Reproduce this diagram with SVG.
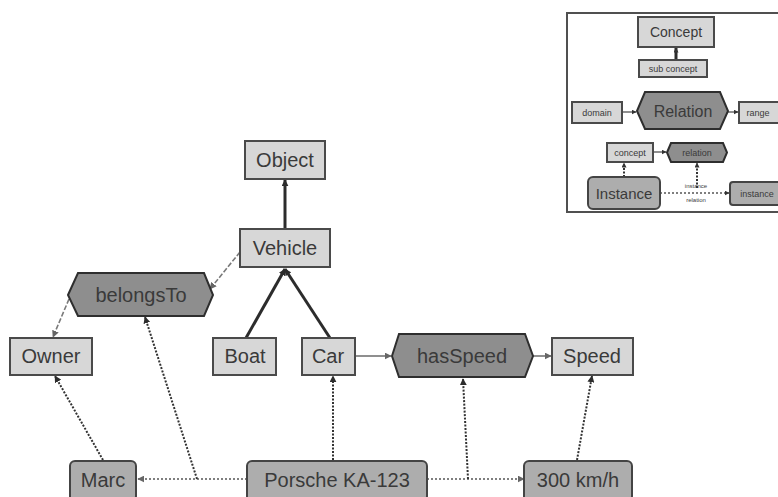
<svg xmlns="http://www.w3.org/2000/svg" width="778" height="497" viewBox="0 0 778 497">
  <style>
    text { font-family: "Liberation Sans", Arial, sans-serif; fill: #3a3a3a; text-anchor: middle; dominant-baseline: central; }
    .lbl { font-size: 20px; }
    .concept { fill: #d7d7d7; stroke: #4a4a4a; stroke-width: 2; }
    .relation { fill: #8e8e8e; stroke: #2e2e2e; stroke-width: 2; }
    .instance { fill: #adadad; stroke: #444; stroke-width: 2; }
    .isa { fill: none; stroke: #2c2c2c; stroke-width: 3; }
    .rel { fill: none; stroke: #6a6a6a; stroke-width: 1.5; }
    .reld { fill: none; stroke: #7a7a7a; stroke-width: 1.6; stroke-dasharray: 5 2; }
    .inst { fill: none; stroke: #333; stroke-width: 2; stroke-dasharray: 2 1.5; }
    .irel { fill: none; stroke: #555; stroke-width: 1.5; stroke-dasharray: 2 2; }
    .frame { fill: #fff; stroke: #505050; stroke-width: 2; }
  </style>
  <defs>
    <marker id="ah" viewBox="0 0 10 10" refX="9" refY="5" markerWidth="7" markerHeight="7" markerUnits="userSpaceOnUse" orient="auto">
      <path d="M0,0 L10,5 L0,10 z" fill="#2c2c2c"/>
    </marker>
    <marker id="ahg" viewBox="0 0 10 10" refX="9" refY="5" markerWidth="7" markerHeight="7" markerUnits="userSpaceOnUse" orient="auto">
      <path d="M0,0 L10,5 L0,10 z" fill="#666"/>
    </marker>
    <marker id="ahs" viewBox="0 0 10 10" refX="9" refY="5" markerWidth="5" markerHeight="5" markerUnits="userSpaceOnUse" orient="auto">
      <path d="M0,0 L10,5 L0,10 z" fill="#333"/>
    </marker>
  </defs>
  <rect width="778" height="497" fill="#fff"/>

  <!-- connectors -->
  <g id="connectors">
    <!-- subclass links -->
    <line class="isa" x1="285" y1="229" x2="285" y2="180" marker-end="url(#ah)"/>
    <line class="isa" x1="246" y1="338" x2="285" y2="269" marker-end="url(#ah)"/>
    <line class="isa" x1="330" y1="338" x2="285" y2="269" marker-end="url(#ah)"/>
    <!-- relation domain / range -->
    <line class="reld" x1="240" y1="252" x2="210" y2="289" marker-end="url(#ahg)"/>
    <line class="reld" x1="69" y1="299" x2="53" y2="337" marker-end="url(#ahg)"/>
    <line class="rel" x1="355" y1="356" x2="391" y2="356" marker-end="url(#ahg)"/>
    <line class="rel" x1="533" y1="356" x2="551" y2="356" marker-end="url(#ahg)"/>
    <!-- instance-of links -->
    <line class="inst" x1="103" y1="460" x2="55" y2="376" marker-end="url(#ah)"/>
    <line class="inst" x1="333" y1="460" x2="333" y2="376" marker-end="url(#ah)"/>
    <line class="inst" x1="577" y1="460" x2="592" y2="376" marker-end="url(#ah)"/>
    <!-- instance relations -->
    <line class="irel" x1="247" y1="479" x2="138" y2="479" marker-end="url(#ahg)"/>
    <line class="inst" x1="197" y1="479" x2="145" y2="317" marker-end="url(#ah)"/>
    <line class="irel" x1="427" y1="479" x2="524" y2="479" marker-end="url(#ahg)"/>
    <line class="inst" x1="468" y1="479" x2="463" y2="379" marker-end="url(#ah)"/>
  </g>

  <!-- concepts -->
  <g id="object"><rect class="concept" x="245" y="141" width="80" height="38"/><text class="lbl" x="285" y="160">Object</text></g>
  <g id="vehicle"><rect class="concept" x="240" y="229" width="90" height="38"/><text class="lbl" x="285" y="248">Vehicle</text></g>
  <g id="owner"><rect class="concept" x="10" y="338" width="82" height="37"/><text class="lbl" x="51" y="356">Owner</text></g>
  <g id="boat"><rect class="concept" x="213" y="338" width="63" height="37"/><text class="lbl" x="245" y="356">Boat</text></g>
  <g id="car"><rect class="concept" x="302" y="338" width="53" height="37"/><text class="lbl" x="328" y="356">Car</text></g>
  <g id="speed"><rect class="concept" x="552" y="338" width="81" height="37"/><text class="lbl" x="592" y="356">Speed</text></g>

  <!-- relations -->
  <g id="belongsTo"><polygon class="relation" points="68,295 78,273 204,273 213,295 204,316 78,316"/><text class="lbl" x="141" y="295">belongsTo</text></g>
  <g id="hasSpeed"><polygon class="relation" points="392,356 399,334 525,334 533,356 525,377 399,377"/><text class="lbl" x="462" y="356">hasSpeed</text></g>

  <!-- instances -->
  <g id="marc"><rect class="instance" x="70" y="461" width="66" height="40" rx="5"/><text class="lbl" x="103" y="480">Marc</text></g>
  <g id="porsche"><rect class="instance" x="247" y="461" width="180" height="40" rx="5"/><text class="lbl" x="337" y="480">Porsche KA-123</text></g>
  <g id="speed300"><rect class="instance" x="524" y="461" width="108" height="40" rx="5"/><text class="lbl" x="578" y="480">300 km/h</text></g>

  <!-- legend -->
  <g id="legend">
    <rect class="frame" x="567" y="13" width="220" height="199"/>
    <g id="legend-links">
      <line class="isa" stroke-width="2" x1="676" y1="60" x2="676" y2="48" marker-end="url(#ahs)"/>
      <line class="rel" x1="622" y1="112" x2="636" y2="112" marker-end="url(#ahs)"/>
      <line class="rel" x1="728" y1="112" x2="738" y2="112" marker-end="url(#ahs)"/>
      <line class="rel" x1="653" y1="152" x2="666" y2="152" marker-end="url(#ahs)"/>
      <line class="inst" x1="624" y1="177" x2="624" y2="163" marker-end="url(#ahs)"/>
      <line class="irel" x1="660" y1="193" x2="729" y2="193" marker-end="url(#ahs)"/>
      <line class="inst" x1="697" y1="188" x2="697" y2="163" marker-end="url(#ahs)"/>
    </g>
    <g id="legend-concept"><rect class="concept" x="638" y="17" width="76" height="30"/><text x="676" y="32" font-size="14">Concept</text></g>
    <g id="legend-subconcept"><rect class="concept" stroke-width="1.5" x="639" y="60" width="68" height="17"/><text x="673" y="68.5" font-size="9">sub concept</text></g>
    <g id="legend-domain"><rect class="concept" stroke-width="1.5" x="572" y="102" width="50" height="21"/><text x="597" y="112.5" font-size="9">domain</text></g>
    <g id="legend-relation"><polygon class="relation" points="637,111 645,92 720,92 728,111 720,129 645,129"/><text x="683" y="111" font-size="16">Relation</text></g>
    <g id="legend-range"><rect class="concept" stroke-width="1.5" x="739" y="102" width="40" height="21"/><text x="758" y="112.5" font-size="9">range</text></g>
    <g id="legend-concept-small"><rect class="concept" stroke-width="1.5" x="607" y="143" width="46" height="19"/><text x="630" y="152.5" font-size="9">concept</text></g>
    <g id="legend-relation-small"><polygon class="relation" stroke-width="1.5" points="667,152.5 671,143 723,143 727,152.5 723,162 671,162"/><text x="697" y="152.5" font-size="9">relation</text></g>
    <g id="legend-instance"><rect class="instance" x="588" y="177" width="72" height="32" rx="5"/><text x="624" y="193" font-size="15">Instance</text></g>
    <g id="legend-instance-small"><rect class="instance" stroke-width="1.5" x="730" y="182" width="55" height="23" rx="3"/><text x="757" y="193.5" font-size="9">instance</text></g>
    <text x="696" y="186" font-size="6">instance</text>
    <text x="696" y="200" font-size="6">relation</text>
  </g>
</svg>
